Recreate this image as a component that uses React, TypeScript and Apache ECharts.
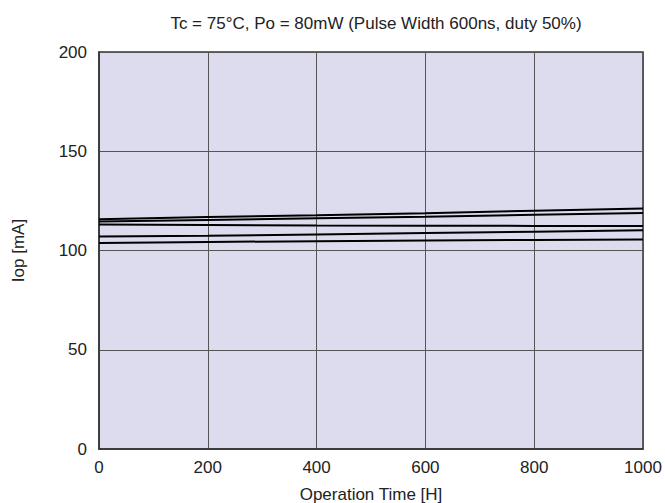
import React, { useEffect, useRef } from "react";
import * as echarts from "echarts";

const hours = [0, 200, 400, 600, 800, 1000];
const lineA = [115.8, 116.9, 117.8, 118.8, 120.0, 121.2];
const lineB = [114.6, 115.4, 116.2, 117.0, 118.0, 118.9];
const lineC = [113.1, 112.9, 112.6, 112.5, 112.4, 112.4];
const lineD = [107.1, 107.4, 108.1, 108.8, 109.5, 110.2];
const lineE = [103.8, 104.3, 104.7, 105.0, 105.3, 105.5];
const seriesList = [lineA, lineB, lineC, lineD, lineE];

const FONT = "Liberation Sans, Arial, Helvetica, sans-serif";

export default function App() {
  const ref = useRef<HTMLDivElement>(null);
  useEffect(() => {
    if (!ref.current) return;
    const chart = echarts.init(ref.current, undefined, { renderer: "svg" });
    chart.setOption({
      animation: false,
      backgroundColor: "#ffffff",
      title: {
        text: "Tc = 75°C, Po = 80mW (Pulse Width 600ns, duty 50%)",
        left: 371,
        top: 10,
        textAlign: "center",
        textStyle: { fontFamily: FONT, fontSize: 17, fontWeight: "normal", color: "#222" },
      },
      grid: {
        left: 99,
        right: 22,
        top: 52,
        bottom: 54,
        containLabel: false,
        outerBoundsMode: "none",
        show: true,
        backgroundColor: "#dcdcee",
        borderColor: "#333",
        borderWidth: 1.5,
      },
      xAxis: {
        type: "value",
        min: 0,
        max: 1000,
        interval: 200,
        name: "Operation Time [H]",
        nameLocation: "middle",
        nameGap: 37,
        nameTextStyle: { fontFamily: FONT, fontSize: 17, color: "#222" },
        axisLine: { show: true, lineStyle: { color: "#333", width: 1.5 } },
        axisTick: { show: false },
        axisLabel: {
          fontFamily: FONT,
          fontSize: 17,
          color: "#222",
          margin: 10,
          formatter: (v: number) => String(v),
        },
        splitLine: { show: true, lineStyle: { color: "#555", width: 1 } },
      },
      yAxis: {
        type: "value",
        min: 0,
        max: 200,
        interval: 50,
        name: "Iop [mA]",
        nameLocation: "middle",
        nameGap: 72,
        nameTextStyle: { fontFamily: FONT, fontSize: 17, color: "#222" },
        axisLine: { show: true, lineStyle: { color: "#333", width: 1.5 } },
        axisTick: { show: false },
        axisLabel: {
          fontFamily: FONT,
          fontSize: 17,
          color: "#222",
          margin: 12,
        },
        splitLine: { show: true, lineStyle: { color: "#555", width: 1 } },
      },
      series: seriesList.map((vals) => ({
        type: "line",
        data: hours.map((h, i) => [h, vals[i]]),
        showSymbol: false,
        symbol: "none",
        lineStyle: { color: "#000", width: 2 },
        silent: true,
      })),
    });
    return () => chart.dispose();
  }, []);
  return (
    <div
      ref={ref}
      style={{ position: "fixed", left: 0, top: 0, width: 665, height: 503 }}
    />
  );
}
